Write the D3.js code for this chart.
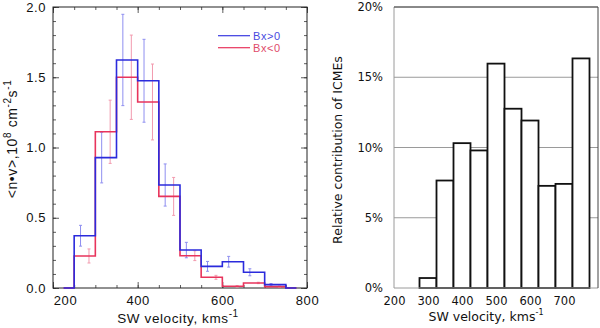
<!DOCTYPE html>
<html lang="en">
<head>
  <meta charset="UTF-8">
  <title>SW velocity histograms</title>
  <script src="https://d3js.org/d3.v7.min.js"></script>
  <style>
    body { margin: 0; background: #fff; }
    svg { display: block; }
    .idl text { font-family: "Liberation Sans", Arial, sans-serif; letter-spacing: 0.6px; }
    .xl text { font-family: "DejaVu Sans", Verdana, sans-serif; }
  </style>
</head>
<body>
  <svg width="600" height="328"></svg>

  <script>
    // left panel: flux per velocity bin (bin start, width 50)
    const binStarts = [250, 300, 350, 400, 450, 500, 550, 600, 650, 700];
    const bxPos = [0.372, 0.928, 1.623, 1.475, 0.733, 0.270, 0.154, 0.187, 0.112, 0.024];
    const bxPosErr = [0.074, 0.18, 0.325, 0.295, 0.15, 0.055, 0.035, 0.038, 0.025, 0.008];
    const bxNeg = [0.228, 1.112, 1.500, 1.324, 0.652, 0.230, 0.076, 0.012, 0.036, 0.010];
    const bxNegErr = [0.05, 0.225, 0.30, 0.27, 0.135, 0.035, 0.014, 0.005, 0.005, 0.004];
    const leftXTicks = [200, 400, 600, 800];
    const leftYTicks = [0, 0.5, 1.0, 1.5, 2.0];

    // right panel: relative contribution of ICMEs (bin centres)
    const barCenters = [300, 350, 400, 450, 500, 550, 600, 650, 700, 750];
    const icmeShare = [0.71, 7.65, 10.31, 9.79, 15.97, 12.76, 11.92, 7.27, 7.41, 16.34];
    const rightXTicks = [200, 300, 400, 500, 600, 700];
    const rightYTicks = [0, 5, 10, 15, 20];

    const svg = d3.select("svg");

    // ---------- left panel ----------
    const L = svg.append("g").attr("class", "idl");
    const xL = d3.scaleLinear().domain([200, 800]).range([53, 307]);
    const yL = d3.scaleLinear().domain([0, 2]).range([288, 7]);

    const minorX = d3.range(200, 801, 50);
    const minorY = d3.range(0, 2.001, 0.1);

    function noLabels(ax) { return ax.tickFormat(""); }

    // minor ticks
    L.append("g").attr("transform", "translate(0,288)")
      .call(noLabels(d3.axisBottom(xL).tickValues(minorX).tickSize(-3)));
    L.append("g").attr("transform", "translate(0,7)")
      .call(noLabels(d3.axisTop(xL).tickValues(minorX).tickSize(-3)));
    L.append("g").attr("transform", "translate(53,0)")
      .call(noLabels(d3.axisLeft(yL).tickValues(minorY).tickSize(-3)));
    L.append("g").attr("transform", "translate(307,0)")
      .call(noLabels(d3.axisRight(yL).tickValues(minorY).tickSize(-3)));

    // major ticks
    const xAxisL = L.append("g").attr("transform", "translate(0,288)")
      .call(d3.axisBottom(xL).tickValues(leftXTicks).tickSize(-6).tickPadding(8));
    L.append("g").attr("transform", "translate(0,7)")
      .call(noLabels(d3.axisTop(xL).tickValues(leftXTicks).tickSize(-6)));
    const yAxisL = L.append("g").attr("transform", "translate(53,0)")
      .call(d3.axisLeft(yL).tickValues(leftYTicks).tickSize(-6).tickPadding(7).tickFormat(d3.format(".1f")));
    L.append("g").attr("transform", "translate(307,0)")
      .call(noLabels(d3.axisRight(yL).tickValues(leftYTicks).tickSize(-6)));

    L.selectAll(".domain").remove();
    L.selectAll(".tick line").attr("stroke", "#333").attr("stroke-width", 0.8);
    L.selectAll(".tick text").attr("font-size", 13).attr("fill", "#111");
    xAxisL.selectAll(".tick text").filter(d => d === 200).attr("dx", 12);

    L.append("rect")
      .attr("x", 53).attr("y", 7).attr("width", 254).attr("height", 281)
      .attr("fill", "none").attr("stroke", "#222").attr("stroke-width", 1);

    function stepPoints(vals) {
      const pts = [[225, 0]];
      binStarts.forEach((b, i) => pts.push([b, vals[i]]));
      pts.push([750, 0], [775, 0]);
      return pts;
    }
    const step = d3.line().x(d => xL(d[0])).y(d => yL(d[1])).curve(d3.curveStepAfter);

    function errorBars(vals, errs, offset, color) {
      const g = L.append("g").attr("stroke", color).attr("stroke-width", 1);
      binStarts.forEach((b, i) => {
        const x = xL(b + offset);
        const y0 = yL(vals[i] - errs[i]), y1 = yL(vals[i] + errs[i]);
        g.append("line").attr("x1", x).attr("x2", x).attr("y1", y0).attr("y2", y1);
        g.append("line").attr("x1", x - 1.5).attr("x2", x + 1.5).attr("y1", y0).attr("y2", y0);
        g.append("line").attr("x1", x - 1.5).attr("x2", x + 1.5).attr("y1", y1).attr("y2", y1);
      });
    }

    errorBars(bxNeg, bxNegErr, 35, "#f29aae");
    errorBars(bxPos, bxPosErr, 15, "#8f8ff0");

    L.append("path").datum(stepPoints(bxNeg))
      .attr("fill", "none").attr("stroke", "#e8345c").attr("stroke-width", 1.6).attr("d", step);
    L.append("path").datum(stepPoints(bxPos))
      .attr("fill", "none").attr("stroke", "#2b2bdc").attr("stroke-width", 1.6).attr("d", step);

    // legend
    const legend = [["Bx>0", "#3a3ae0", "#4848e0"], ["Bx<0", "#e8345c", "#e04a6a"]];
    legend.forEach((d, i) => {
      const y = 35.7 + i * 12;
      L.append("line").attr("x1", 218).attr("x2", 250).attr("y1", y).attr("y2", y)
        .attr("stroke", d[1]).attr("stroke-width", 1.2);
      L.append("text").attr("x", 253).attr("y", y + 4).attr("font-size", 11)
        .attr("fill", d[2]).text(d[0]);
    });

    // axis titles
    const xtL = L.append("text").attr("x", 178).attr("y", 323).attr("text-anchor", "middle")
      .attr("font-size", 13.5).attr("fill", "#111");
    xtL.append("tspan").text("SW velocity, kms");
    xtL.append("tspan").attr("dy", -6).attr("font-size", 10).text("-1");

    const ytL = L.append("text").attr("transform", "translate(17,139) rotate(-90)")
      .attr("text-anchor", "middle").attr("font-size", 14).attr("fill", "#111");
    ytL.append("tspan").text("<n•v>,10");
    ytL.append("tspan").attr("dy", -6).attr("font-size", 10).text("8");
    ytL.append("tspan").attr("dy", 6).text(" cm");
    ytL.append("tspan").attr("dy", -6).attr("font-size", 10).text("-2");
    ytL.append("tspan").attr("dy", 6).text("s");
    ytL.append("tspan").attr("dy", -6).attr("font-size", 10).text("-1");

    // ---------- right panel ----------
    const R = svg.append("g").attr("class", "xl");
    const xR = d3.scaleLinear().domain([200, 800]).range([394, 598]);
    const yR = d3.scaleLinear().domain([0, 20]).range([288, 7]);

    R.append("g").selectAll("line").data(rightYTicks.slice(1)).join("line")
      .attr("x1", 394).attr("x2", 598)
      .attr("y1", d => yR(d)).attr("y2", d => yR(d))
      .attr("stroke", "#9a9a9a").attr("stroke-width", 1);

    R.append("g").selectAll("rect").data(barCenters).join("rect")
      .attr("x", d => xR(d - 25)).attr("width", xR(50) - xR(0))
      .attr("y", (d, i) => yR(icmeShare[i]))
      .attr("height", (d, i) => yR(0) - yR(icmeShare[i]))
      .attr("fill", "#fff").attr("stroke", "#111").attr("stroke-width", 1.8);

    // frame
    R.append("line").attr("x1", 394).attr("x2", 394).attr("y1", 7).attr("y2", 288)
      .attr("stroke", "#9a9a9a");
    R.append("line").attr("x1", 394).attr("x2", 598).attr("y1", 288).attr("y2", 288)
      .attr("stroke", "#9a9a9a");
    R.append("line").attr("x1", 394).attr("x2", 598).attr("y1", 7).attr("y2", 7)
      .attr("stroke", "#444");
    R.append("line").attr("x1", 598).attr("x2", 598).attr("y1", 7).attr("y2", 288)
      .attr("stroke", "#444");

    const xAxisR = R.append("g").attr("transform", "translate(0,288)")
      .call(d3.axisBottom(xR).tickValues(rightXTicks).tickSize(0).tickPadding(9));
    const yAxisR = R.append("g").attr("transform", "translate(394,0)")
      .call(d3.axisLeft(yR).tickValues(rightYTicks).tickSize(0).tickPadding(11).tickFormat(d => d + "%"));
    R.selectAll(".domain").remove();
    R.selectAll(".tick text").attr("font-size", 11.5).attr("fill", "#111");

    const xtR = R.append("text").attr("x", 486).attr("y", 321).attr("text-anchor", "middle")
      .attr("font-size", 12.5).attr("fill", "#111");
    xtR.append("tspan").text("SW velocity, kms");
    xtR.append("tspan").attr("dy", -6).attr("font-size", 8).text("-1");

    R.append("text").attr("transform", "translate(342,150) rotate(-90)")
      .attr("text-anchor", "middle").attr("font-size", 12.5).attr("fill", "#111")
      .text("Relative contribution of ICMEs");
  </script>
</body>
</html>
